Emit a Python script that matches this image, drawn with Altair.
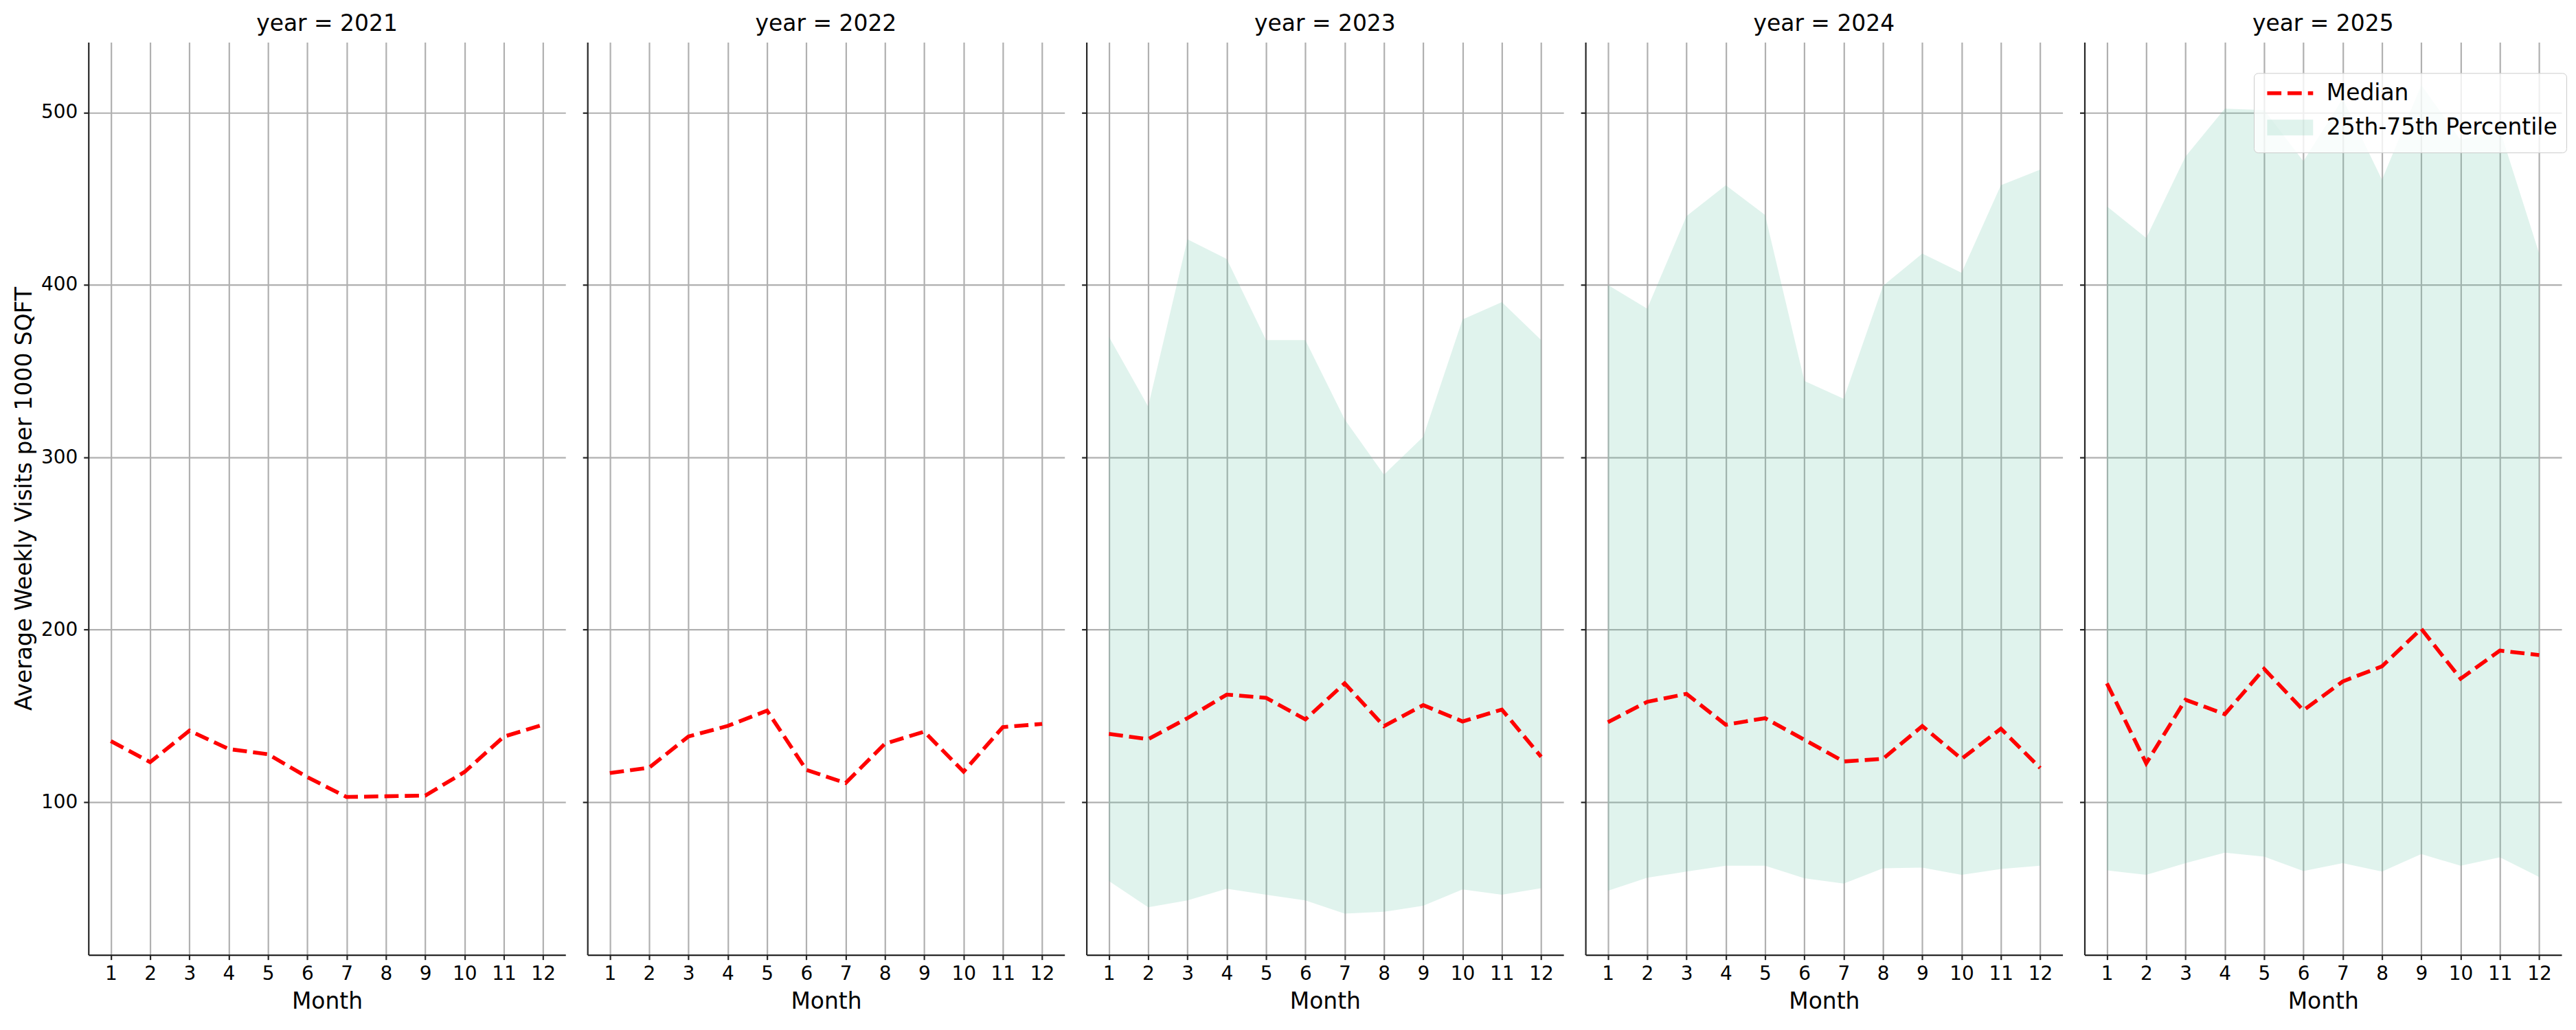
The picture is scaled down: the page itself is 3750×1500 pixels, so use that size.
import altair as alt
import pandas as pd

years = [2021, 2022, 2023, 2024, 2025]
months = list(range(1, 13))

median_2021 = [135.4, 123.2, 141.5, 130.8, 127.8, 114.5, 103.0, 103.4, 103.8, 117.5, 138.0, 144.9]
median_2022 = [116.9, 120.0, 138.1, 144.2, 153.1, 118.7, 111.1, 133.9, 140.9, 117.7, 143.5, 145.4]
median_2023 = [139.6, 136.5, 148.7, 162.4, 160.5, 148.0, 168.9, 144.1, 156.3, 146.8, 153.7, 126.3]
median_2024 = [146.4, 158.2, 162.8, 144.9, 148.7, 136.2, 123.6, 125.1, 144.1, 125.1, 142.6, 119.8]
median_2025 = [168.9, 122.5, 159.4, 151.0, 177.3, 153.3, 170.0, 178.8, 200.5, 171.6, 187.9, 185.3]

p25_2023 = [54.3, 39.0, 43.0, 49.8, 46.3, 43.0, 35.3, 36.4, 39.9, 49.4, 46.3, 50.1]
p75_2023 = [370.0, 329.5, 426.5, 415.0, 368.0, 368.0, 322.0, 290.0, 312.0, 380.0, 390.0, 368.0]
p25_2024 = [48.6, 56.2, 59.7, 63.1, 63.1, 55.9, 52.8, 61.6, 62.0, 57.8, 61.2, 63.1]
p75_2024 = [400.0, 386.2, 439.9, 457.8, 440.6, 344.3, 334.0, 399.5, 418.2, 407.1, 457.8, 466.9]
p25_2025 = [60.4, 57.8, 64.6, 70.7, 68.4, 60.0, 64.6, 59.7, 69.9, 63.1, 68.0, 56.6]
p75_2025 = [445.6, 427.3, 474.5, 502.3, 501.5, 471.8, 508.0, 461.0, 516.0, 484.0, 490.0, 418.2]

y_ticks = [100, 200, 300, 400, 500]
series_names = ["Median", "25th-75th Percentile"]

medians = dict(zip(years, [median_2021, median_2022, median_2023, median_2024, median_2025]))
bands = {2023: (p25_2023, p75_2023), 2024: (p25_2024, p75_2024), 2025: (p25_2025, p75_2025)}

FONT = "DejaVu Sans"
BAND = "#66c2a5"
BAND_SWATCH = "rgba(102,194,165,0.2)"
DASH = [20.7, 9]
is_median = "datum.value == 'Median'"

# one legend box, two kinds of swatch: dashed line for the median, filled bar for the band
legend = alt.Legend(
    title=None, orient="none", legendX=247, legendY=45,
    labelFont=FONT, labelFontSize=33, labelColor="black", labelLimit=0, labelOffset=60,
    symbolSize=400, symbolStrokeWidth=5.6, symbolDash=DASH,
    symbolType={"expr": f"{is_median} ? 'M-1,0L5.7,0' : 'M-1,-1.15L5.7,-1.15L5.7,1.15L-1,1.15Z'"},
    symbolFillColor={"expr": f"{is_median} ? 'transparent' : '{BAND_SWATCH}'"},
    fillColor="rgba(255,255,255,0.8)", strokeColor="#cccccc", cornerRadius=6,
    padding=13, rowPadding=9,
)
color_scale = alt.Scale(domain=series_names, range=["red", "transparent"])


def panel(year, first, with_legend):
    df = pd.DataFrame({"month": months, "median": medians[year], "series": "Median"})
    x = alt.X("month:Q", scale=alt.Scale(domain=[0.43, 12.57], nice=False, zero=False),
              axis=alt.Axis(values=months, format="d", title="Month", labelPadding=7, titlePadding=10))
    y_axis = alt.Axis(values=y_ticks, format="d", labels=first, labelPadding=9, titlePadding=7,
                      title="Average Weekly Visits per 1000 SQFT" if first else None)
    y_scale = alt.Scale(domain=[11.4, 540.8], nice=False, zero=False)

    line_enc = dict(x=x, y=alt.Y("median:Q", scale=y_scale, axis=y_axis))
    if with_legend:
        line_enc["color"] = alt.Color("series:N", scale=color_scale, legend=legend)
        line = alt.Chart(df).mark_line(strokeDash=DASH, strokeWidth=5.6)
    else:
        line = alt.Chart(df).mark_line(color="red", strokeDash=DASH, strokeWidth=5.6)
    line = line.encode(**line_enc)

    layers = []
    if year in bands:
        lo, hi = bands[year]
        bdf = pd.DataFrame({"month": months, "p25": lo, "p75": hi})
        band = alt.Chart(bdf).mark_area(color=BAND, opacity=0.2).encode(
            x=x, y=alt.Y("p25:Q", scale=y_scale, axis=y_axis), y2="p75:Q"
        )
        layers.append(band)
    layers.append(line)

    return alt.layer(*layers).properties(
        width=696, height=1332,
        title=alt.TitleParams(f"year = {year}"),
    )


panels = [panel(y, i == 0, y == 2025) for i, y in enumerate(years)]

chart = alt.hconcat(*panels, spacing=22).resolve_scale(color="independent").properties(
    padding={"left": 11, "top": 8, "right": 5, "bottom": 5},
).configure_view(
    stroke="transparent",
).configure_axis(
    labelFont=FONT, labelFontSize=28, labelColor="black",
    titleFont=FONT, titleFontSize=33, titleFontWeight="normal", titleColor="black",
    gridColor="#b0b0b0", gridWidth=2.2,
    domainColor="#262626", domainWidth=2.2,
    tickColor="#262626", tickWidth=2.2, tickSize=7,
).configure_title(
    font=FONT, fontSize=33, fontWeight="normal", color="black",
    anchor="middle", offset=10, baseline="alphabetic",
)

chart.save("out.html", embed_options={"renderer": "svg", "actions": False})
